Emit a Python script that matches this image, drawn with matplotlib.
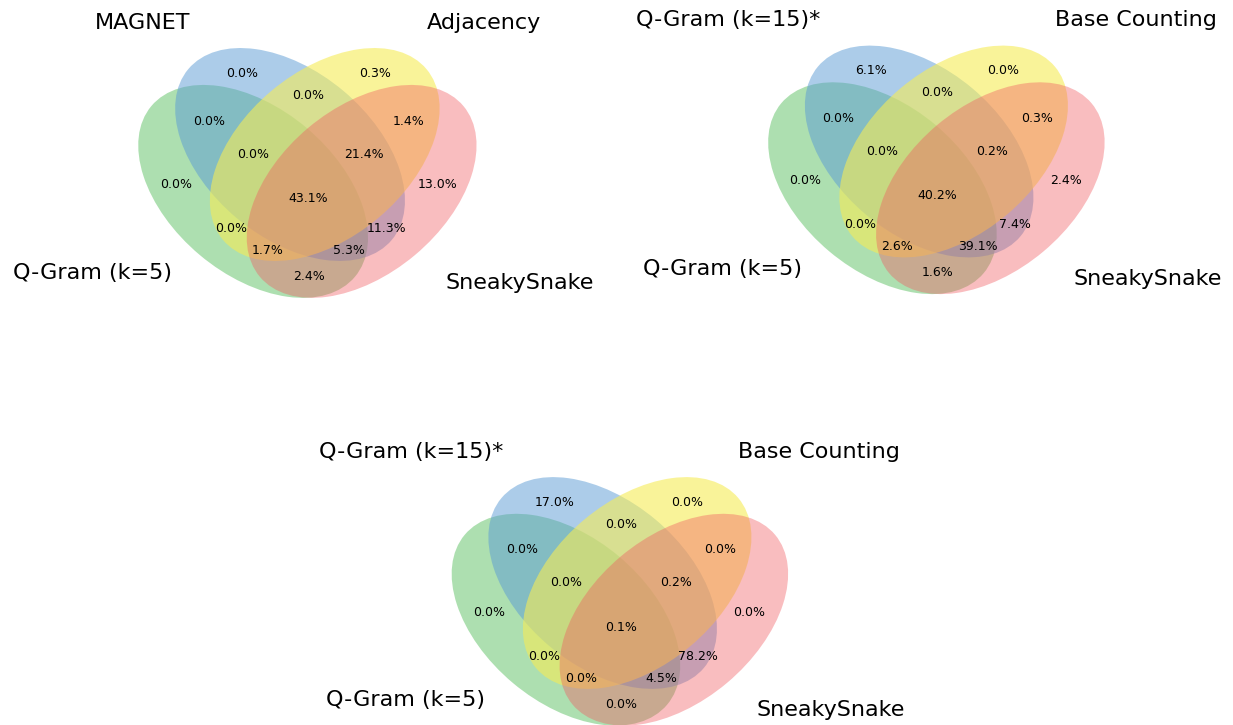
import matplotlib
matplotlib.use("Agg")
import matplotlib.pyplot as plt
from matplotlib.patches import Ellipse

# region keys: sets in order (green, blue, yellow, red)
keys = ["0001", "0010", "0011", "0100", "0101", "0110", "0111", "1000",
        "1001", "1010", "1011", "1100", "1101", "1110", "1111"]

names_1 = ["Q-Gram (k=5)", "MAGNET", "Adjacency", "SneakySnake"]
vals_1 = [13.0, 0.3, 1.4, 0.0, 11.3, 0.0, 21.4, 0.0,
          2.4, 0.0, 1.7, 0.0, 5.3, 0.0, 43.1]

names_2 = ["Q-Gram (k=5)", "Q-Gram (k=15)*", "Base Counting", "SneakySnake"]
vals_2 = [2.4, 0.0, 0.3, 6.1, 7.4, 0.0, 0.2, 0.0,
          1.6, 0.0, 2.6, 0.0, 39.1, 0.0, 40.2]

names_3 = ["Q-Gram (k=5)", "Q-Gram (k=15)*", "Base Counting", "SneakySnake"]
vals_3 = [0.0, 0.0, 0.0, 17.0, 78.2, 0.0, 0.2, 0.0,
          0.0, 0.0, 0.0, 0.0, 4.5, 0.0, 0.1]

colors = [
    (92/255, 192/255, 98/255, 0.5),
    (90/255, 155/255, 212/255, 0.5),
    (246/255, 236/255, 86/255, 0.6),
    (241/255, 90/255, 96/255, 0.4),
]

# layout of the 4 ellipse venn (pyvenn style)
ellipses = [(0.350, 0.400, 140.0), (0.450, 0.500, 140.0),
            (0.544, 0.500, 40.0), (0.644, 0.400, 40.0)]
label_pos = {
    "0001": (0.85, 0.42), "0010": (0.68, 0.72), "0011": (0.77, 0.59),
    "0100": (0.32, 0.72), "0101": (0.71, 0.30), "0110": (0.50, 0.66),
    "0111": (0.65, 0.50), "1000": (0.14, 0.42), "1001": (0.50, 0.17),
    "1010": (0.29, 0.30), "1011": (0.39, 0.24), "1100": (0.23, 0.59),
    "1101": (0.61, 0.24), "1110": (0.35, 0.50), "1111": (0.50, 0.38),
}

W, H = 1233, 725
fig = plt.figure(figsize=(W/100, H/100), dpi=100)


def venn4(left, bottom_px, size, names, vals):
    # left, bottom_px in pixels from top-left corner of figure
    ax = fig.add_axes([left/W, (H - bottom_px)/H, size/W, size/H])
    ax.set_xlim(0, 1)
    ax.set_ylim(0, 1)
    ax.set_axis_off()
    for (x, y, ang), c in zip(ellipses, colors):
        ax.add_patch(Ellipse((x, y), 0.72, 0.45, angle=ang, facecolor=c,
                             edgecolor="none", linewidth=0))
    for k, v in zip(keys, vals):
        x, y = label_pos[k]
        ax.text(x, y, "%.1f%%" % v, ha="center", va="center", fontsize=9)
    ax.text(0.13, 0.18, names[0], ha="right", va="center", fontsize=16)
    ax.text(0.18, 0.83, names[1], ha="right", va="bottom", fontsize=16)
    ax.text(0.82, 0.83, names[2], ha="left", va="bottom", fontsize=16)
    ax.text(0.87, 0.18, names[3], ha="left", va="top", fontsize=16)
    return ax


venn4(124, 339, 369, names_1, vals_1)
venn4(754, 335, 367, names_2, vals_2)
venn4(437.5, 766.5, 367, names_3, vals_3)

plt.savefig("out.png", dpi=100)
